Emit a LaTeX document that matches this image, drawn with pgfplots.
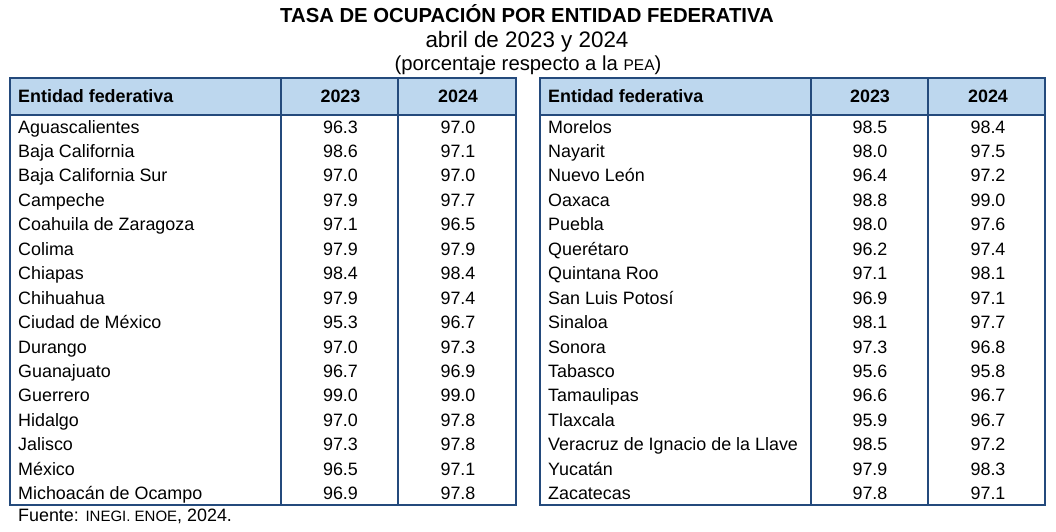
\documentclass[border=0pt]{standalone}
\usepackage{fontspec}
\setmainfont{Liberation Sans}
\usepackage{pgfplots}
\usepackage{pgfplotstable}
\pgfplotsset{compat=1.18}
\definecolor{tabborder}{HTML}{244A7C}
\definecolor{headfill}{HTML}{BDD7EE}
\newcommand{\bodyfont}{\fontsize{17.9bp}{20bp}\selectfont}

\pgfplotstableread[col sep=comma]{
name,y23,y24
Aguascalientes,96.3,97.0
Baja California,98.6,97.1
Baja California Sur,97.0,97.0
Campeche,97.9,97.7
Coahuila de Zaragoza,97.1,96.5
Colima,97.9,97.9
Chiapas,98.4,98.4
Chihuahua,97.9,97.4
Ciudad de México,95.3,96.7
Durango,97.0,97.3
Guanajuato,96.7,96.9
Guerrero,99.0,99.0
Hidalgo,97.0,97.8
Jalisco,97.3,97.8
México,96.5,97.1
Michoacán de Ocampo,96.9,97.8
}\tabA

\pgfplotstableread[col sep=comma]{
name,y23,y24
Morelos,98.5,98.4
Nayarit,98.0,97.5
Nuevo León,96.4,97.2
Oaxaca,98.8,99.0
Puebla,98.0,97.6
Querétaro,96.2,97.4
Quintana Roo,97.1,98.1
San Luis Potosí,96.9,97.1
Sinaloa,98.1,97.7
Sonora,97.3,96.8
Tabasco,95.6,95.8
Tamaulipas,96.6,96.7
Tlaxcala,95.9,96.7
Veracruz de Ignacio de la Llave,98.5,97.2
Yucatán,97.9,98.3
Zacatecas,97.8,97.1
}\tabB

\begin{document}
\begin{tikzpicture}
\begin{axis}[
  width=1056bp, height=532bp, scale only axis,
  xmin=0, xmax=1056, ymin=0, ymax=532, y dir=reverse,
  hide axis, clip=false,
  every node near coord/.append style={font=\bodyfont, inner sep=0pt, text=black},
  tabtext/.style={draw=none, mark=none, nodes near coords, point meta=explicit symbolic},
]
\path (0,0) rectangle (1056,532);

% header fills
\fill[headfill] (10,78) rectangle (516,115);
\fill[headfill] (540,78) rectangle (1045,115);

% table lines
\draw[tabborder, line width=2bp] (10,115) -- (516,115);
\draw[tabborder, line width=2bp] (540,115) -- (1045,115);
\draw[tabborder, line width=2.2bp] (281,78) -- (281,505);
\draw[tabborder, line width=2.2bp] (398,78) -- (398,505);
\draw[tabborder, line width=2.2bp] (811,78) -- (811,505);
\draw[tabborder, line width=2.2bp] (928,78) -- (928,505);
\draw[tabborder, line width=2.6bp] (10,78) rectangle (516,505);
\draw[tabborder, line width=2.6bp] (540,78) rectangle (1045,505);

% titles
\node[inner sep=0pt, anchor=base, font=\bfseries\fontsize{20.3bp}{22bp}\selectfont] at (527,22.5) {TASA DE OCUPACIÓN POR ENTIDAD FEDERATIVA};
\node[inner sep=0pt, anchor=base, font=\fontsize{22.4bp}{24bp}\selectfont] at (527,48) {abril de 2023 y 2024};
\node[inner sep=0pt, anchor=base, font=\fontsize{20.3bp}{22bp}\selectfont] at (528,71) {(porcentaje respecto a la {\fontsize{15.5bp}{17bp}\selectfont PEA})};

% headers
\node[inner sep=0pt, anchor=base west, font=\bfseries\bodyfont] at (18,102) {Entidad federativa};
\node[inner sep=0pt, anchor=base, font=\bfseries\bodyfont] at (340.5,102) {2023};
\node[inner sep=0pt, anchor=base, font=\bfseries\bodyfont] at (458,102) {2024};
\node[inner sep=0pt, anchor=base west, font=\bfseries\bodyfont] at (548,102) {Entidad federativa};
\node[inner sep=0pt, anchor=base, font=\bfseries\bodyfont] at (870,102) {2023};
\node[inner sep=0pt, anchor=base, font=\bfseries\bodyfont] at (988,102) {2024};

% left table body
\addplot[tabtext, every node near coord/.append style={anchor=base west}]
  table[x expr=18, y expr=133+24.45*\coordindex, meta=name] {\tabA};
\addplot[tabtext, every node near coord/.append style={anchor=base}]
  table[x expr=340.5, y expr=133+24.45*\coordindex, meta=y23] {\tabA};
\addplot[tabtext, every node near coord/.append style={anchor=base}]
  table[x expr=458, y expr=133+24.45*\coordindex, meta=y24] {\tabA};

% right table body
\addplot[tabtext, every node near coord/.append style={anchor=base west}]
  table[x expr=548, y expr=133+24.45*\coordindex, meta=name] {\tabB};
\addplot[tabtext, every node near coord/.append style={anchor=base}]
  table[x expr=870, y expr=133+24.45*\coordindex, meta=y23] {\tabB};
\addplot[tabtext, every node near coord/.append style={anchor=base}]
  table[x expr=988, y expr=133+24.45*\coordindex, meta=y24] {\tabB};

% source
\node[inner sep=0pt, anchor=base west, font=\bodyfont] at (18,521) {Fuente: {\fontsize{15bp}{17bp}\selectfont INEGI. ENOE}, 2024.};
\end{axis}
\end{tikzpicture}
\end{document}
